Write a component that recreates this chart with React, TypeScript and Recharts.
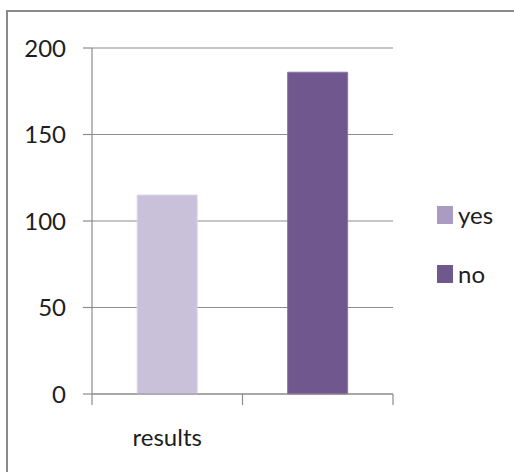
import React from "react";
import { BarChart, Bar, XAxis, YAxis, CartesianGrid, Legend } from "recharts";

// Category labels along the x axis
const categories = ["results", ""];
// Series values per category (null where the series has no bar)
const yesValues: (number | null)[] = [115, null];
const noValues: (number | null)[] = [null, 186];
// Y axis ticks
const yTicks = [0, 50, 100, 150, 200];
// Legend / series order
const seriesOrder = ["yes", "no"];

const data = categories.map((cat, i) => ({
  cat,
  yes: yesValues[i],
  no: noValues[i],
}));

const FONT = "Lato, 'Open Sans', sans-serif";
const GRID = "#8c8c8c";
const TEXT = "#1e1e1e";
const X_TICK_MARGIN = 35;
const X_TICK_LEN = 11;

const swatch: Record<string, string> = { yes: "#a99bc2", no: "#6f588e" };

function LegendContent(props: any) {
  const items = [...(props.payload || [])].sort(
    (a: any, b: any) => seriesOrder.indexOf(a.value) - seriesOrder.indexOf(b.value)
  );
  return (
    <div style={{ fontFamily: FONT, fontSize: 24, color: TEXT }}>
      {items.map((p: any) => (
        <div
          key={p.value}
          style={{ display: "flex", alignItems: "center", height: 59 }}
        >
          <span
            style={{
              display: "inline-block",
              width: 16,
              height: 18,
              background: swatch[p.value] || p.color,
              marginRight: 5,
            }}
          />
          <span style={{ lineHeight: "24px" }}>{p.value}</span>
        </div>
      ))}
    </div>
  );
}

// Category label plus tick marks at the band boundaries
function CategoryTick(props: any) {
  const { x, y, payload, index, visibleTicksCount } = props;
  const half = payload?.offset ?? 0;
  const axisY = y - X_TICK_MARGIN;
  const isLast = index === visibleTicksCount - 1;
  return (
    <g>
      <line
        x1={x - half}
        x2={x - half}
        y1={axisY}
        y2={axisY + X_TICK_LEN}
        stroke={GRID}
        strokeWidth={1.2}
      />
      {isLast && (
        <line
          x1={x + half}
          x2={x + half}
          y1={axisY}
          y2={axisY + X_TICK_LEN}
          stroke={GRID}
          strokeWidth={1.2}
        />
      )}
      <text
        x={x}
        y={y}
        dy="0.71em"
        textAnchor="middle"
        fontFamily={FONT}
        fontSize={24}
        fill={TEXT}
      >
        {payload?.value}
      </text>
    </g>
  );
}

export default function App() {
  return (
    <div
      style={{
        position: "fixed",
        left: 0,
        top: 0,
        width: 514,
        height: 472,
        overflow: "hidden",
        background: "#ffffff",
      }}
    >
      <div
        style={{
          position: "absolute",
          left: 6,
          top: 10,
          width: 700,
          height: 700,
          border: "2.5px solid #8a8a8a",
          boxSizing: "border-box",
        }}
      />
      <div style={{ position: "absolute", left: 0, top: 0 }}>
        <BarChart
          width={514}
          height={472}
          data={data}
          margin={{ top: 48, right: 121, bottom: 28, left: 0 }}
          barCategoryGap="30%"
        >
          <CartesianGrid
            horizontal
            vertical={false}
            stroke={GRID}
            strokeWidth={1.2}
          />
          <XAxis
            dataKey="cat"
            tickLine={false}
            tickSize={0}
            tickMargin={X_TICK_MARGIN}
            axisLine={{ stroke: GRID, strokeWidth: 1.2 }}
            tick={<CategoryTick />}
            height={50}
            interval={0}
          />
          <YAxis
            domain={[0, 200]}
            ticks={yTicks}
            width={92}
            tickSize={9}
            tickMargin={17}
            axisLine={{ stroke: GRID, strokeWidth: 1.2 }}
            tickLine={{ stroke: GRID, strokeWidth: 1.2 }}
            tick={{ fontFamily: FONT, fontSize: 24, fill: TEXT }}
          />
          <Legend
            layout="horizontal"
            align="center"
            verticalAlign="middle"
            content={<LegendContent />}
            wrapperStyle={{ top: 185, left: 437, width: 77 }}
          />
          <Bar
            dataKey="yes"
            stackId="s"
            fill="#c9c0da"
            stroke="#ddd6e8"
            strokeWidth={1}
            isAnimationActive={false}
          />
          <Bar
            dataKey="no"
            stackId="s"
            fill="#70588e"
            stroke="#8a76a5"
            strokeWidth={1}
            isAnimationActive={false}
          />
        </BarChart>
      </div>
    </div>
  );
}
